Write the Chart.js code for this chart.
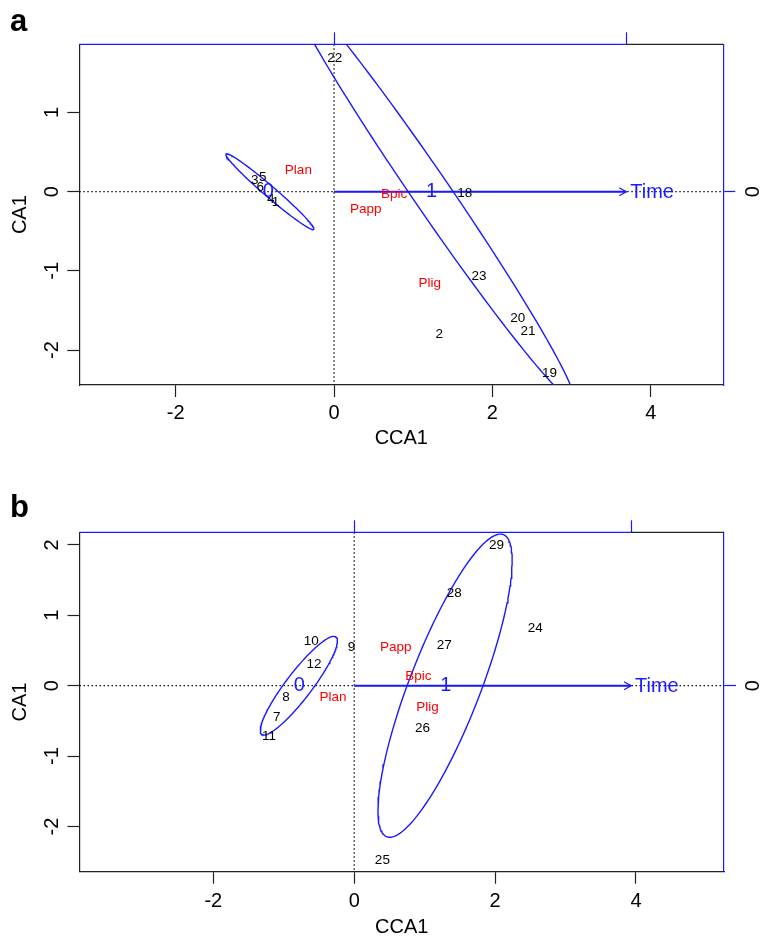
<!DOCTYPE html>
<html lang="en">
<head>
<meta charset="UTF-8">
<title>CCA ordination by time</title>
<script src="https://cdn.jsdelivr.net/npm/chart.js"></script>
<style>
  body { margin: 0; background: #fff; }
  #wrap { position: relative; width: 771px; height: 939px; }
  canvas { position: absolute; left: 0; }
</style>
</head>
<body>
<div id="wrap">
  <canvas id="chartA" width="771" height="470" style="top:0"></canvas>
  <canvas id="chartB" width="771" height="469" style="top:470px"></canvas>
</div>
<script>
// ---- panel a ----
const siteLabelsA = ['22', '3', '5', '6', '4', '1', '18', '23', '20', '21', '2', '19'];
const siteXA = [0.01, -1.00, -0.90, -0.93, -0.80, -0.74, 1.65, 1.83, 2.32, 2.45, 1.33, 2.72];
const siteYA = [1.68, 0.14, 0.18, 0.06, -0.09, -0.13, -0.02, -1.07, -1.60, -1.76, -1.80, -2.30];
const speciesLabels = ['Plan', 'Bpic', 'Papp', 'Plig'];
const speciesXA = [-0.45, 0.76, 0.40, 1.21];
const speciesYA = [0.27, -0.03, -0.22, -1.16];
const levelLabels = ['0', '1'];
const levelXA = [-0.83, 1.23];
const levelYA = [0, 0];
const timeArrowA = [3.69, 0];
// ellipse per time level: centre x, centre y, semi-major, semi-minor, angle (deg)
const ellipseA0 = [-0.81, 0.0, 0.73, 0.07, -40.7];
const ellipseA1 = [1.22, 0.0, 3.18, 0.235, -55.6];
const xRangeA = [-3.216, 4.915];
const yRangeA = [-2.442, 1.862];
const yTicksA = [-2, -1, 0, 1];

// ---- panel b ----
const siteLabelsB = ['29', '28', '24', '27', '10', '9', '12', '8', '7', '11', '26', '25'];
const siteXB = [2.02, 1.42, 2.57, 1.28, -0.61, -0.04, -0.57, -0.97, -1.10, -1.21, 0.97, 0.40];
const siteYB = [1.99, 1.31, 0.82, 0.57, 0.63, 0.54, 0.31, -0.17, -0.45, -0.72, -0.61, -2.48];
const speciesXB = [-0.30, 0.91, 0.59, 1.04];
const speciesYB = [-0.16, 0.14, 0.55, -0.31];
const levelXB = [-0.78, 1.30];
const levelYB = [0, 0];
const timeArrowB = [3.93, 0];
const ellipseB0 = [-0.786, 0.0, 0.87, 0.185, 52.7];
const ellipseB1 = [1.29, 0.0, 2.30, 0.505, 68.9];
const xRangeB = [-3.90, 5.25];
const yRangeB = [-2.642, 2.179];
const yTicksB = [-2, -1, 0, 1, 2];

const xTicks = [-2, 0, 2, 4];

const FONT = '"Liberation Sans", Arial, sans-serif';
const BLUE = '#1a1aff';

function toPoints(xs, ys) {
  return xs.map((x, i) => ({ x: x, y: ys[i] }));
}

// outline of an ellipse from its centre, semi-axes and rotation
function ellipseOutline(e) {
  const [cx, cy, a, b, deg] = e;
  const t = deg * Math.PI / 180;
  const pts = [];
  for (let i = 0; i <= 180; i++) {
    const u = i / 180 * 2 * Math.PI;
    pts.push({
      x: cx + a * Math.cos(u) * Math.cos(t) - b * Math.sin(u) * Math.sin(t),
      y: cy + a * Math.cos(u) * Math.sin(t) + b * Math.sin(u) * Math.cos(t)
    });
  }
  return pts;
}

// draws text labels, dotted zero lines, arrow head, box top and rotated tick labels
const ordiPlugin = {
  id: 'ordi',
  beforeDatasetsDraw(chart) {
    const { ctx, chartArea: a, scales } = chart;
    const x0 = scales.x.getPixelForValue(0);
    const y0 = scales.y.getPixelForValue(0);
    ctx.save();
    ctx.strokeStyle = '#111';
    ctx.lineWidth = 1.3;
    ctx.setLineDash([1.5, 2.5]);
    ctx.beginPath();
    ctx.moveTo(a.left, y0); ctx.lineTo(a.right, y0);
    ctx.moveTo(x0, a.top); ctx.lineTo(x0, a.bottom);
    ctx.stroke();
    ctx.restore();
  },
  afterDatasetsDraw(chart, args, opts) {
    const { ctx, chartArea: a, scales } = chart;
    ctx.save();
    ctx.textAlign = 'center';
    ctx.textBaseline = 'middle';
    chart.data.datasets.forEach((ds, i) => {
      const meta = chart.getDatasetMeta(i);
      if (ds.labels) {
        ctx.font = ds.labelFont;
        ctx.fillStyle = ds.labelColor;
        meta.data.forEach((pt, j) => ctx.fillText(ds.labels[j], pt.x, pt.y));
      }
      if (ds.arrowLabel) {
        const end = meta.data[meta.data.length - 1];
        ctx.strokeStyle = BLUE;
        ctx.lineWidth = 1.3;
        ctx.beginPath();
        ctx.moveTo(end.x - 7, end.y - 4);
        ctx.lineTo(end.x, end.y);
        ctx.lineTo(end.x - 7, end.y + 4);
        ctx.stroke();
        ctx.font = '20px ' + FONT;
        ctx.fillStyle = BLUE;
        ctx.textAlign = 'left';
        ctx.fillText(ds.arrowLabel, end.x + 4, end.y + 1);
        ctx.textAlign = 'center';

        // box top: blue up to the arrow scale mark, black beyond
        ctx.lineWidth = 1.2;
        ctx.beginPath();
        ctx.strokeStyle = BLUE;
        ctx.moveTo(a.left, a.top); ctx.lineTo(end.x, a.top);
        ctx.stroke();
        ctx.beginPath();
        ctx.strokeStyle = '#222';
        ctx.moveTo(end.x, a.top); ctx.lineTo(a.right, a.top);
        ctx.stroke();
      }
    });

    // rotated y tick labels, left and right
    ctx.font = '20px ' + FONT;
    ctx.fillStyle = '#000';
    scales.y.ticks.forEach(t => {
      ctx.save();
      ctx.translate(opts.leftLabelX, scales.y.getPixelForValue(t.value));
      ctx.rotate(-Math.PI / 2);
      ctx.fillText(String(t.value), 0, 0);
      ctx.restore();
    });
    scales.y2.ticks.forEach(t => {
      ctx.save();
      ctx.translate(opts.rightLabelX, scales.y2.getPixelForValue(t.value));
      ctx.rotate(-Math.PI / 2);
      ctx.fillText(String(t.value), 0, 0);
      ctx.restore();
    });

    // panel letter
    ctx.font = 'bold 31px ' + FONT;
    ctx.textAlign = 'left';
    ctx.textBaseline = 'alphabetic';
    ctx.fillText(opts.tag, 10, opts.tagY);
    ctx.restore();
  }
};

function makeChart(id, p) {
  const setTicks = vals => s => { s.ticks = vals.map(v => ({ value: v })); };
  const datasets = [
    { data: ellipseOutline(p.ell0), showLine: true, borderColor: BLUE, borderWidth: 1.4, pointRadius: 0 },
    { data: ellipseOutline(p.ell1), showLine: true, borderColor: BLUE, borderWidth: 1.4, pointRadius: 0 },
    { data: [{ x: 0, y: 0 }, { x: p.arrow[0], y: p.arrow[1] }], showLine: true, borderColor: BLUE,
      borderWidth: 2, pointRadius: 0, arrowLabel: 'Time' },
    { data: toPoints(p.siteX, p.siteY), pointRadius: 0, labels: p.siteLabels,
      labelFont: '13.5px ' + FONT, labelColor: '#000' },
    { data: toPoints(p.spX, p.spY), pointRadius: 0, labels: speciesLabels,
      labelFont: '13.5px ' + FONT, labelColor: '#ff0000' },
    { data: toPoints(p.lvX, p.lvY), pointRadius: 0, labels: levelLabels,
      labelFont: '20px ' + FONT, labelColor: BLUE }
  ];
  return new Chart(document.getElementById(id), {
    type: 'scatter',
    data: { datasets: datasets },
    options: {
      responsive: false,
      animation: false,
      events: [],
      layout: { padding: 0 },
      plugins: {
        legend: { display: false },
        tooltip: { enabled: false },
        ordi: { tag: p.tag, tagY: p.tagY, leftLabelX: 52, rightLabelX: 753 }
      },
      scales: {
        x: {
          type: 'linear', position: 'bottom', min: p.xr[0], max: p.xr[1],
          afterBuildTicks: setTicks(xTicks),
          afterFit: s => { s.height = p.bottom; },
          grid: { drawOnChartArea: false, tickLength: 12, color: '#222', tickWidth: 1.2 },
          border: { color: '#222', width: 1.2 },
          ticks: { color: '#000', font: { size: 20, family: FONT }, padding: p.tickPad, maxRotation: 0 },
          title: { display: true, text: 'CCA1', color: '#000', font: { size: 20, family: FONT },
                   padding: { top: 0, bottom: p.titlePad } }
        },
        y: {
          type: 'linear', position: 'left', min: p.yr[0], max: p.yr[1],
          afterBuildTicks: setTicks(p.yTicks),
          afterFit: s => { s.width = p.left; },
          grid: { drawOnChartArea: false, tickLength: 12, color: '#222', tickWidth: 1.2 },
          border: { color: '#222', width: 1.2 },
          ticks: { display: false },
          title: { display: true, text: 'CA1', color: '#000', font: { size: 20, family: FONT },
                   padding: { top: 8.5, bottom: 0 } }
        },
        x2: {
          type: 'linear', position: 'top', min: p.xr[0], max: p.xr[1],
          afterBuildTicks: setTicks([0, p.arrow[0]]),
          afterFit: s => { s.height = p.top; },
          grid: { drawOnChartArea: false, tickLength: 12, color: BLUE, tickWidth: 1.2 },
          border: { display: false },
          ticks: { display: false }
        },
        y2: {
          type: 'linear', position: 'right', min: p.yr[0], max: p.yr[1],
          afterBuildTicks: setTicks([0]),
          afterFit: s => { s.width = p.right; },
          grid: { drawOnChartArea: false, tickLength: 12, color: BLUE, tickWidth: 1.2 },
          border: { color: BLUE, width: 1.2 },
          ticks: { display: false }
        }
      }
    },
    plugins: [ordiPlugin]
  });
}

makeChart('chartA', {
  tag: 'a', tagY: 31,
  siteLabels: siteLabelsA, siteX: siteXA, siteY: siteYA,
  spX: speciesXA, spY: speciesYA, lvX: levelXA, lvY: levelYA,
  arrow: timeArrowA, ell0: ellipseA0, ell1: ellipseA1,
  xr: xRangeA, yr: yRangeA, yTicks: yTicksA,
  left: 79.3, right: 47.7, top: 44.3, bottom: 85, tickPad: 4.5, titlePad: 20
});

makeChart('chartB', {
  tag: 'b', tagY: 47,
  siteLabels: siteLabelsB, siteX: siteXB, siteY: siteYB,
  spX: speciesXB, spY: speciesYB, lvX: levelXB, lvY: levelYB,
  arrow: timeArrowB, ell0: ellipseB0, ell1: ellipseB1,
  xr: xRangeB, yr: yRangeB, yTicks: yTicksB,
  left: 79.5, right: 47, top: 62.3, bottom: 67.3, tickPad: 5.5, titlePad: 0
});
</script>
</body>
</html>
